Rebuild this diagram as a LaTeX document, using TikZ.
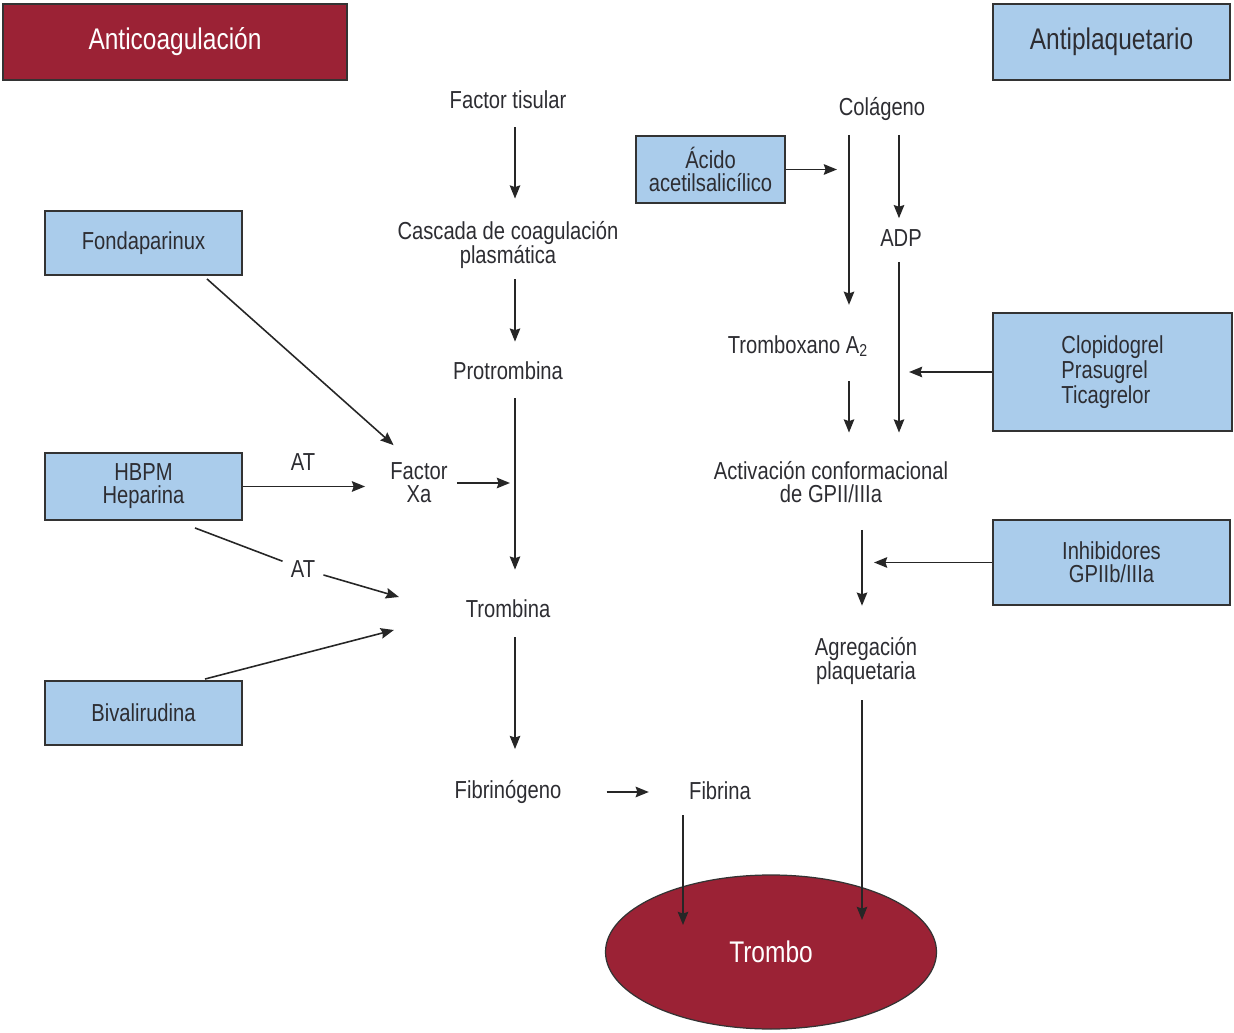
\documentclass[tikz,border=0pt]{standalone}
\usepackage{fontspec}
\setmainfont{Liberation Sans}[FakeStretch=0.82]
\usetikzlibrary{arrows.meta, shapes.geometric, positioning}
\newlength\px
\setlength\px{0.02cm}
\definecolor{rojoosc}{RGB}{155,34,53}
\definecolor{azulcl}{RGB}{170,204,235}
\definecolor{texto}{RGB}{45,45,50}
\tikzset{
  titulo/.style={
    rectangle, draw=black!80, line width=1.1pt, minimum height=76*\px,
    text centered, font=\fontsize{17}{20}\selectfont
  },
  farmaco/.style={
    rectangle, draw=black!80, line width=1.1pt, fill=azulcl,
    align=center, minimum width=197*\px, text=texto,
    font=\fontsize{14}{13}\selectfont
  },
  paso/.style={
    inner sep=0pt, align=center, text=texto,
    font=\fontsize{14}{13}\selectfont
  },
  linea/.style={
    line width=0.9pt, color=black!85
  },
  flecha/.style={
    -{Stealth[length=7.5pt,width=6pt,inset=1pt]}, line width=0.9pt, color=black!85
  }
}

\begin{document}
\begin{tikzpicture}[x=0.02cm, y=-0.02cm]
    \useasboundingbox (0,0) rectangle (1234,1033);

    % Titulos
    \node[titulo, fill=rojoosc, text=white, minimum width=344*\px] (anticoag) at (175,42) {Anticoagulación};
    \node[titulo, fill=azulcl, text=texto, minimum width=237*\px] (antiplaq) at (1111.5,42) {Antiplaquetario};

    % Cascada de coagulacion
    \node[paso] (ftis) at (508,100) {Factor tisular};
    \node[paso] (casc) at (508,245) {Cascada de coagulación\\plasmática};
    \node[paso] (prot) at (508,371) {Protrombina};
    \node[paso] (fxa) at (419,483) {Factor\\Xa};
    \node[paso] (trom) at (508,609) {Trombina};
    \node[paso] (fgen) at (508,792) {Fibrinógeno};
    \node[paso] (fbna) at (720,791) {Fibrina};
    \node[ellipse, draw=black!80, line width=0.7pt, fill=rojoosc, minimum width=331*\px,
          minimum height=154*\px, text=white, font=\fontsize{17}{20}\selectfont] (trombo) at (771,952) {Trombo};

    % Anticoagulantes
    \node[farmaco, minimum height=64*\px] (fond) at (143.5,243) {Fondaparinux};
    \node[farmaco, minimum height=67*\px] (hbpm) at (143.5,486.5) {HBPM\\Heparina};
    \node[farmaco, minimum height=64*\px] (biva) at (143.5,713) {Bivalirudina};
    \node[paso] (at1) at (303,462) {AT};
    \node[paso, inner sep=8*\px] (at2) at (303,569) {AT};

    % Via plaquetaria
    \node[paso] (col) at (882,109) {Colágeno};
    \node[paso] (adp) at (901,238) {ADP};
    \node[paso] (txa) at (798,346) {Tromboxano A\textsubscript{2}};
    \node[paso] (act) at (831,482) {Activación conformacional\\de GPII/IIIa};
    \node[paso] (agr) at (866,661) {Agregación\\plaquetaria};

    % Antiplaquetarios
    \node[farmaco, minimum width=149*\px, minimum height=67*\px] (aas) at (710.5,169.5) {Ácido\\acetilsalicílico};
    \node[farmaco, minimum width=239*\px, minimum height=118*\px, align=left] (clop) at (1112.5,372) {Clopidogrel\\Prasugrel\\Ticagrelor};
    \node[farmaco, minimum width=237*\px, minimum height=85*\px] (inhi) at (1111.5,562.5) {Inhibidores\\GPIIb/IIIa};

    % Flechas de la cascada
    \draw[flecha, shorten <=18*\px, shorten >=22*\px] ([xshift=7*\px]ftis.south) -- ([xshift=7*\px]casc.north);
    \draw[flecha, shorten <=10*\px, shorten >=20*\px] ([xshift=7*\px]casc.south) -- ([xshift=7*\px]prot.north);
    \draw[flecha, shorten <=18*\px, shorten >=30*\px] ([xshift=7*\px]prot.south) -- ([xshift=7*\px]trom.north);
    \draw[flecha, shorten <=9*\px] (fxa.east) -- ([xshift=2*\px]fxa.east -| prot.south);
    \draw[flecha, shorten <=19*\px, shorten >=31*\px] ([xshift=7*\px]trom.south) -- ([xshift=7*\px]fgen.north);
    \draw[flecha, shorten <=45*\px, shorten >=40*\px] (fgen.east) -- (fgen.east -| fbna.west);
    \draw[flecha] ([xshift=-37*\px,yshift=-15*\px]fbna.south) -- ([xshift=-88*\px,yshift=27*\px]trombo.center);
    \draw[flecha] ([xshift=-4*\px,yshift=-15*\px]agr.south) -- ([xshift=91*\px,yshift=32*\px]trombo.center);

    % Flechas anticoagulantes
    \draw[flecha] ([xshift=63.5*\px,yshift=-3*\px]fond.south) -- ([xshift=3.5*\px,yshift=17.5*\px]fxa.north west);
    \draw[flecha, shorten >=25*\px] (hbpm.east) -- (hbpm.east -| fxa.west);
    \draw[linea] ([xshift=51.5*\px,yshift=-7*\px]hbpm.south) -- (at2);
    \draw[flecha] (at2) -- ([xshift=-66.5*\px,yshift=12*\px]trom.west);
    \draw[flecha] ([xshift=61.5*\px,yshift=1*\px]biva.north) -- ([xshift=-71.5*\px,yshift=-21*\px]trom.west);

    % Flechas plaquetarias
    \draw[flecha] (aas.east) -- ([xshift=51*\px]aas.east);
    \draw[flecha] ([xshift=-33*\px,yshift=-14*\px]col.south) -- ([xshift=51*\px,yshift=30*\px]txa.north);
    \draw[flecha] ([xshift=17*\px,yshift=-14*\px]col.south) -- ([xshift=-2*\px,yshift=11*\px]adp.north);
    \draw[flecha] ([xshift=-2*\px,yshift=-15*\px]adp.south) -- ([xshift=68*\px,yshift=28.5*\px]act.north);
    \draw[flecha] ([xshift=51*\px,yshift=-24*\px]txa.south) -- ([xshift=18*\px,yshift=28.5*\px]act.north);
    \draw[flecha] (clop.west) -- ([xshift=-83*\px]clop.west);
    \draw[flecha] ([xshift=31*\px,yshift=-27*\px]act.south) -- ([xshift=-4*\px,yshift=31*\px]agr.north);
    \draw[flecha] (inhi.west) -- ([xshift=-118*\px]inhi.west);
\end{tikzpicture}
\end{document}
